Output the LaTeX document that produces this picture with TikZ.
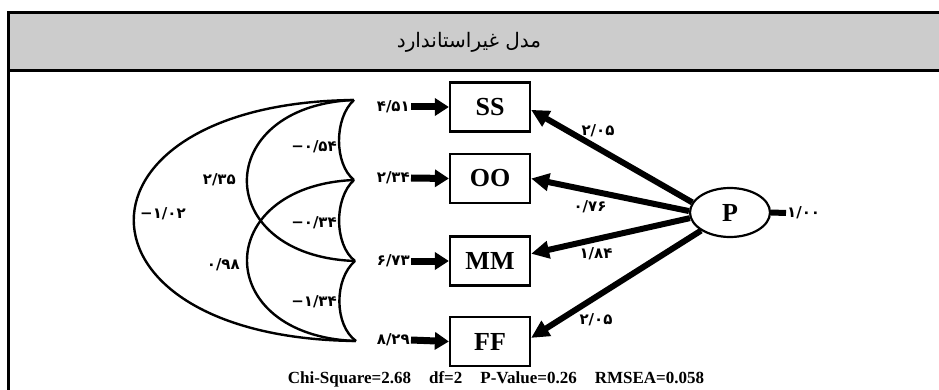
\documentclass[tikz,border=0pt]{standalone}
\usepackage{fontspec}
\setmainfont{Liberation Serif}
\newfontfamily\arabicfont[Script=Arabic]{DejaVu Sans}
\newfontfamily\digitfont{DejaVu Sans}
\newcommand\negsign{{\fontspec{DejaVu Sans}\char"2212}}
\TeXXeTstate=1
\usetikzlibrary{arrows.meta,shapes.geometric}
\definecolor{headgray}{RGB}{204,204,204}
\begin{document}
\begin{tikzpicture}[x=1pt,y=-1pt,
  obs/.style={draw,line width=2.2pt,minimum width=80pt,minimum height=49pt,inner sep=0pt,
    font=\fontsize{26}{26}\selectfont\bfseries},
  lat/.style={draw,ellipse,line width=2.2pt,minimum width=80pt,minimum height=49pt,inner sep=0pt,
    font=\fontsize{26}{26}\selectfont\bfseries},
  num/.style={font=\digitfont\bfseries\fontsize{15}{15}\selectfont,inner sep=1pt},
  load/.style={line width=6pt,-{Triangle[length=18pt,width=17pt]}},
  err/.style={line width=7pt,-{Triangle[length=14pt,width=17pt]}},
  cov/.style={line width=2.4pt},
  frame/.style={line width=3pt},
]
\useasboundingbox (0,0) rectangle (939,390);
% header
\fill[headgray] (8,13) rectangle (939,71);
\draw[frame] (8,13) -- (939,13);
\draw[frame] (8,71) -- (939,71);
\draw[frame] (8,11.5) -- (8,390);
\node (title) at (469,42) {\arabicfont\fontsize{20}{20}\selectfont\beginR مدل غیراستاندارد\endR};

% observed variables
\node[obs] (SS) at (490,107) {SS};
\node[obs] (OO) at (490,178.5) {OO};
\node[obs] (MM) at (490,261) {MM};
\node[obs] (FF) at (490,341.5) {FF};
% latent
\node[lat] (P) at (730,212.5) {P};

% error variances
\node[num,anchor=east] (e1) at (411,107) {۴/۵۱};
\node[num,anchor=east] (e2) at (411,178) {۲/۳۴};
\node[num,anchor=east] (e3) at (411,261) {۶/۷۳};
\node[num,anchor=east] (e4) at (411,340) {۸/۲۹};
\draw[err] (e1.east) -- (SS.west);
\draw[err] (e2.east) -- (OO.west);
\draw[err] (e3.east) -- (MM.west);
\draw[err] (e4.east) -- (FF.west);

\node[num,anchor=west] (p0) at (786,213) {۱/۰۰};
\draw[line width=6pt] (P.east) -- (p0.west);

% loadings
\draw[load] (P.165) -- (SS.-4);
\draw[load] (P.178) -- (OO.east);
\draw[load] (P.188) -- (MM.10);
\draw[load] (P.212) -- (FF.5);
\node[num] (l1) at (598,131) {۲/۰۵};
\node[num] (l2) at (590,207) {۰/۷۶};
\node[num] (l3) at (596,254) {۱/۸۴};
\node[num] (l4) at (596,320) {۲/۰۵};

% covariances
\coordinate (c1) at (354,100);
\coordinate (c2) at (354,180);
\coordinate (c3) at (355,261);
\coordinate (c4) at (356,341);
\draw[cov] (c1) .. controls (60,103) and (60,338) .. (c4);
\draw[cov] (c1) .. controls (211,106) and (211,256) .. (c3);
\draw[cov] (c2) .. controls (211,186) and (211,336) .. (c4);
\draw[cov] (c1) .. controls (334,118) and (334,164) .. (c2);
\draw[cov] (c2) .. controls (334,198) and (334,245) .. (c3);
\draw[cov] (c3) .. controls (334,279) and (334,325) .. (c4);
\node[num,anchor=west] (k14) at (139,214) {\negsign۱/۰۲};
\node[num,anchor=east] (k13) at (237,180) {۲/۳۵};
\node[num,anchor=east] (k24) at (241,265) {۰/۹۸};
\node[num,anchor=east] (k12) at (338,147) {\negsign۰/۵۴};
\node[num,anchor=east] (k23) at (338,223) {\negsign۰/۳۴};
\node[num,anchor=east] (k34) at (338,302) {\negsign۱/۳۴};

% fit indices
\node[font=\fontsize{17}{17}\selectfont\bfseries] (fit) at (496,379)
  {Chi-Square=2.68\hspace{18pt}df=2\hspace{18pt}P-Value=0.26\hspace{18pt}RMSEA=0.058};
\end{tikzpicture}
\end{document}
